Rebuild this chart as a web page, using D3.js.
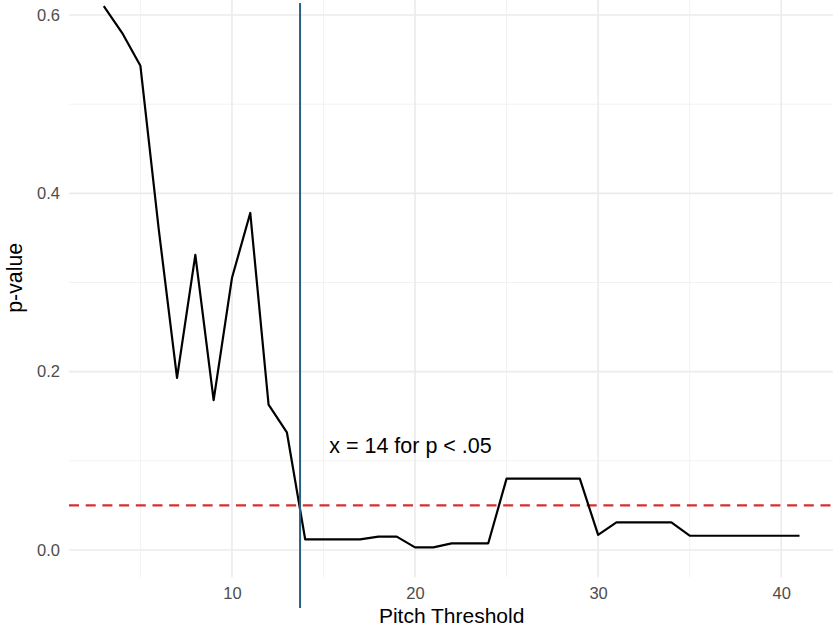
<!DOCTYPE html>
<html>
<head>
<meta charset="utf-8">
<script src="https://cdn.jsdelivr.net/npm/d3@7"></script>
<style>
  html, body { margin: 0; padding: 0; background: #ffffff; }
  svg { display: block; font-family: "Liberation Sans", Arial, sans-serif; }
</style>
</head>
<body>
<svg id="chart" width="833" height="627"></svg>
<script>
// ---- data ----
const thresholds = [3,4,5,6,7,8,9,10,11,12,13,14,15,16,17,18,19,20,21,22,23,24,25,26,27,28,29,30,31,32,33,34,35,36,37,38,39,40,41];
const pValues = [0.610,0.580,0.543,0.360,0.193,0.331,0.168,0.305,0.378,0.163,0.132,
                 0.012,0.012,0.012,0.012,0.015,0.015,0.003,0.003,0.0075,0.0075,0.0075,
                 0.080,0.080,0.080,0.080,0.080,0.017,0.031,0.031,0.031,0.031,
                 0.016,0.016,0.016,0.016,0.016,0.016,0.016];
const xTicks = [10, 20, 30, 40];
const xMinorTicks = [5, 15, 25, 35];
const yTicks = [0.0, 0.2, 0.4, 0.6];
const yMinorTicks = [0.1, 0.3, 0.5];
const alphaLevel = 0.05;
const cutoffX = 13.72;
const annotationText = ["x = 14 for p < .05"];
const annotationPos = [19.75, 0.118];
const xTitle = "Pitch Threshold";
const yTitle = "p-value";

// ---- layout ----
const svg = d3.select("#chart");
const panel = { left: 69, right: 834.3, top: -21.5, bottom: 577.2 };

const x = d3.scaleLinear().domain([1.1, 42.9]).range([panel.left, panel.right]);
const y = d3.scaleLinear().domain([0, 0.6]).range([550, 15]);

const grid = svg.append("g");
// minor gridlines
grid.selectAll("line.ymin").data(yMinorTicks).join("line")
  .attr("x1", panel.left).attr("x2", panel.right)
  .attr("y1", d => y(d)).attr("y2", d => y(d))
  .attr("stroke", "#f2f2f2").attr("stroke-width", 1);
grid.selectAll("line.xmin").data(xMinorTicks).join("line")
  .attr("y1", panel.top).attr("y2", panel.bottom)
  .attr("x1", d => x(d)).attr("x2", d => x(d))
  .attr("stroke", "#f2f2f2").attr("stroke-width", 1);
// major gridlines
grid.selectAll("line.ymaj").data(yTicks).join("line")
  .attr("x1", panel.left).attr("x2", panel.right)
  .attr("y1", d => y(d)).attr("y2", d => y(d))
  .attr("stroke", "#ebebeb").attr("stroke-width", 1.6);
grid.selectAll("line.xmaj").data(xTicks).join("line")
  .attr("y1", panel.top).attr("y2", panel.bottom)
  .attr("x1", d => x(d)).attr("x2", d => x(d))
  .attr("stroke", "#ebebeb").attr("stroke-width", 1.6);

// axes (labels only, ggplot minimal style)
const xAxis = d3.axisBottom(x).tickValues(xTicks).tickFormat(d3.format("d")).tickSize(0).tickPadding(0);
const gx = svg.append("g").attr("transform", `translate(0,${panel.bottom + 10})`).call(xAxis);
gx.select(".domain").remove();
gx.selectAll("text").attr("font-size", 16.5).attr("fill", "#4d4d4d")
  .attr("font-family", "Liberation Sans, Arial, sans-serif").attr("dy", "0.71em");

const yAxis = d3.axisLeft(y).tickValues(yTicks).tickFormat(d3.format(".1f")).tickSize(0).tickPadding(0);
const gy = svg.append("g").attr("transform", `translate(${panel.left - 9},0)`).call(yAxis);
gy.select(".domain").remove();
gy.selectAll("text").attr("font-size", 16.5).attr("fill", "#4d4d4d")
  .attr("font-family", "Liberation Sans, Arial, sans-serif");

// threshold dashed line
svg.append("line")
  .attr("x1", panel.left).attr("x2", panel.right)
  .attr("y1", y(alphaLevel)).attr("y2", y(alphaLevel))
  .attr("stroke", "#d7302c").attr("stroke-width", 2.2)
  .attr("stroke-dasharray", "10,6.7");

// data line
const pts = thresholds.map((t, i) => [t, pValues[i]]);
svg.append("path")
  .datum(pts)
  .attr("fill", "none")
  .attr("stroke", "#000000")
  .attr("stroke-width", 2.2)
  .attr("stroke-linejoin", "round")
  .attr("d", d3.line().x(d => x(d[0])).y(d => y(d[1])));

// vertical cutoff line
svg.append("line")
  .attr("x1", x(cutoffX)).attr("x2", x(cutoffX))
  .attr("y1", 3).attr("y2", 608)
  .attr("stroke", "#2b5f7e").attr("stroke-width", 2);

// annotation
svg.selectAll("text.anno").data(annotationText).join("text")
  .attr("class", "anno")
  .attr("x", x(annotationPos[0])).attr("y", y(annotationPos[1]))
  .attr("text-anchor", "middle").attr("dy", "0.36em")
  .attr("font-size", 21.5).attr("fill", "#000")
  .text(d => d);

// axis titles
svg.append("text")
  .attr("x", (panel.left + panel.right) / 2).attr("y", 622.5)
  .attr("text-anchor", "middle")
  .attr("font-size", 21).attr("fill", "#000")
  .text(xTitle);
svg.append("text")
  .attr("transform", `translate(14,${(panel.top + panel.bottom) / 2}) rotate(-90)`)
  .attr("text-anchor", "middle").attr("dy", "0.36em")
  .attr("font-size", 21.3).attr("fill", "#000")
  .text(yTitle);
</script>
</body>
</html>
